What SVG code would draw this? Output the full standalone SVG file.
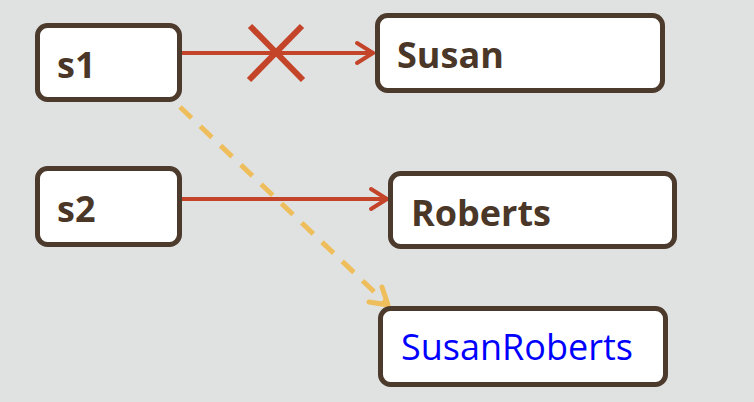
<svg xmlns="http://www.w3.org/2000/svg" width="754" height="402" viewBox="0 0 754 402">
<style>
.box{fill:#ffffff;stroke:#4c3a2c;stroke-width:5}
.lbl{font-family:"Open Sans","Liberation Sans",sans-serif;font-weight:bold;font-size:36px;fill:#4a3728}
.res{font-family:"Open Sans","Liberation Sans",sans-serif;font-size:36px;fill:#0000ff}
.red{stroke:#c4442a;stroke-width:4;fill:none;stroke-linecap:round;stroke-linejoin:round}
.dash{stroke:#efbe5c;stroke-width:5;fill:none;stroke-dasharray:16 12}
.yhead{stroke:#efbe5c;stroke-width:5;fill:none;stroke-linecap:round;stroke-linejoin:round}
</style>
<rect width="754" height="402" fill="#e0e2e1"/>
<g id="connectors">
<line class="red" x1="182" y1="53" x2="373" y2="53"/>
<polyline class="red" points="357,43 373,53 357,63"/>
<line x1="250" y1="26" x2="303" y2="80" stroke="#c4442a" stroke-width="6"/>
<line x1="302" y1="26" x2="249" y2="80" stroke="#c4442a" stroke-width="6"/>
<line class="red" x1="182" y1="199" x2="387" y2="199"/>
<polyline class="red" points="371,189 387,199 371,209"/>
<line class="dash" x1="180" y1="107" x2="386" y2="303"/>
<polyline class="yhead" points="382,287 388,305 369,302"/>
</g>
<g id="s1"><rect class="box" x="37.5" y="25.5" width="142" height="74" rx="10"/><text class="lbl" x="57" y="78" font-size="32">s1</text></g>
<g id="susan"><rect class="box" x="377.5" y="15.5" width="285" height="75" rx="10"/><text class="lbl" x="397" y="68">Susan</text></g>
<g id="s2"><rect class="box" x="37.5" y="168.5" width="142" height="76" rx="10"/><text class="lbl" x="57" y="222" font-size="32">s2</text></g>
<g id="roberts"><rect class="box" x="390.5" y="173.5" width="284" height="73" rx="10"/><text class="lbl" x="411" y="226">Roberts</text></g>
<g id="susanroberts"><rect class="box" x="380.5" y="308.5" width="285" height="76" rx="10"/><text class="res" x="401" y="360">SusanRoberts</text></g>
</svg>
